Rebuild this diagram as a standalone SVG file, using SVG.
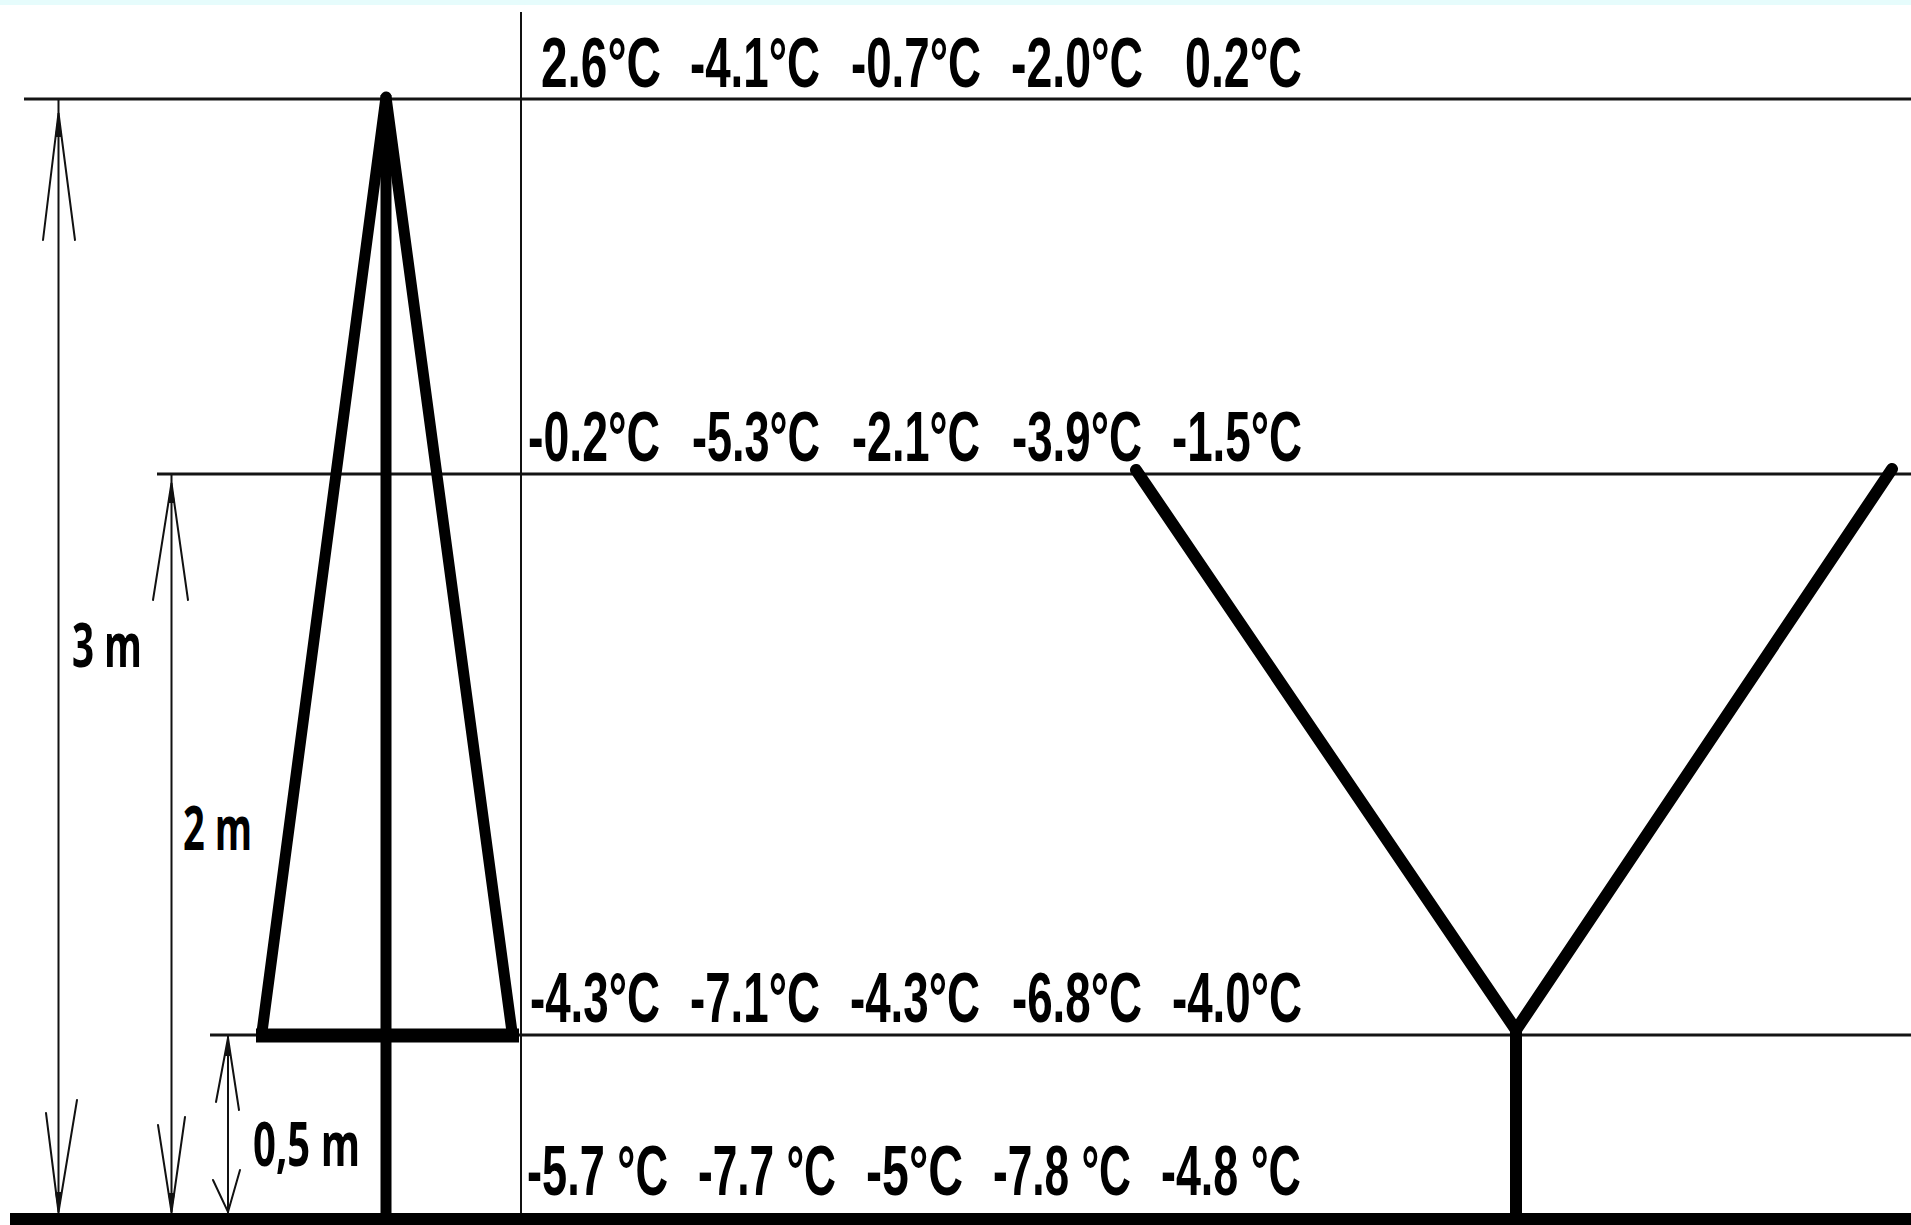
<svg xmlns="http://www.w3.org/2000/svg" width="1911" height="1225" viewBox="0 0 1911 1225">
  <style>
    .thin { stroke: #141414; stroke-width: 3; fill: none; }
    .dim { stroke: #111; stroke-width: 2; fill: none; }
    .wing { stroke: #111; stroke-width: 2; fill: none; stroke-linecap: round; }
    .tip { fill: #111; stroke: none; }
    .thick { stroke: #000; fill: none; stroke-width: 11; }
    .temp { font-family: "Liberation Sans", Arial, sans-serif; font-weight: bold; font-size: 53px; fill: #000; }
    .lbl { font-family: "Open Sans", "Liberation Sans", sans-serif; font-weight: 700; font-size: 60px; fill: #000; }
  </style>
  <rect x="0" y="0" width="1911" height="1225" fill="#ffffff"/>
  <rect x="0" y="0" width="1911" height="5" fill="#e6fcfc"/>

  <g id="level-lines">
    <line class="thin" x1="24" y1="99" x2="1911" y2="99"/>
    <line class="thin" x1="157" y1="474" x2="1911" y2="474"/>
    <line class="thin" x1="210" y1="1035" x2="1911" y2="1035"/>
    <line class="dim" x1="521" y1="12" x2="521" y2="1214" stroke-width="2.5"/>
  </g>

  <g id="ground">
    <rect x="10" y="1213" width="1901" height="12" fill="#000"/>
  </g>

  <g id="dimension-3m">
    <line class="dim" x1="58.5" y1="100" x2="58.5" y2="1213"/>
    <polygon class="tip" points="58.5,112 55,137 62,137"/>
    <polyline class="wing" points="43,240 58.5,113 75,240"/>
    <polygon class="tip" points="58.5,1213 55,1192 62,1192"/>
    <polyline class="wing" points="46,1113 58.5,1212 77,1100"/>
  </g>

  <g id="dimension-2m">
    <line class="dim" x1="171.5" y1="475" x2="171.5" y2="1213"/>
    <polygon class="tip" points="171.5,482 168,503 175,503"/>
    <polyline class="wing" points="153,600 171.5,483 188,600"/>
    <polygon class="tip" points="171.5,1213 168,1193 175,1193"/>
    <polyline class="wing" points="158,1125 171.5,1212 185,1117"/>
  </g>

  <g id="dimension-05m">
    <line class="dim" x1="228" y1="1036" x2="228" y2="1213"/>
    <polygon class="tip" points="228,1037 225,1056 231,1056"/>
    <polyline class="wing" points="216,1102 228,1038 239,1110"/>
    <polyline class="wing" points="213,1180 228,1212 240,1170"/>
  </g>

  <g id="dimension-labels">
    <text class="lbl" x="72" y="667" textLength="70" lengthAdjust="spacingAndGlyphs">3 m</text>
    <text class="lbl" x="183" y="850" textLength="69" lengthAdjust="spacingAndGlyphs">2 m</text>
    <text class="lbl" x="253" y="1166" textLength="107" lengthAdjust="spacingAndGlyphs">0,5 m</text>
  </g>

  <g id="tree-conical">
    <path class="thick" d="M262,1032 L386,97 L512,1032" stroke-linejoin="round"/>
    <line class="thick" x1="386" y1="95" x2="386" y2="1215"/>
    <line x1="256" y1="1035.5" x2="519" y2="1035.5" stroke="#000" stroke-width="14"/>
  </g>

  <g id="tree-vshape">
    <path d="M1136,470 L1516,1030 L1892,469" stroke="#000" stroke-width="12" fill="none" stroke-linecap="round"/>
    <line x1="1516" y1="1030" x2="1516" y2="1215" stroke="#000" stroke-width="12"/>
  </g>

  <g id="temperatures-3m" transform="matrix(1,0,0,1.345,0,-30.015)">
    <text class="temp" x="541" y="87" textLength="120" lengthAdjust="spacingAndGlyphs">2.6°C</text>
    <text class="temp" x="690" y="87" textLength="130" lengthAdjust="spacingAndGlyphs">-4.1°C</text>
    <text class="temp" x="851" y="87" textLength="130" lengthAdjust="spacingAndGlyphs">-0.7°C</text>
    <text class="temp" x="1011" y="87" textLength="132" lengthAdjust="spacingAndGlyphs">-2.0°C</text>
    <text class="temp" x="1185" y="87" textLength="117" lengthAdjust="spacingAndGlyphs">0.2°C</text>
  </g>
  <g id="temperatures-2m" transform="matrix(1,0,0,1.345,0,-159.045)">
    <text class="temp" x="528" y="461" textLength="132" lengthAdjust="spacingAndGlyphs">-0.2°C</text>
    <text class="temp" x="692" y="461" textLength="128" lengthAdjust="spacingAndGlyphs">-5.3°C</text>
    <text class="temp" x="852" y="461" textLength="128" lengthAdjust="spacingAndGlyphs">-2.1°C</text>
    <text class="temp" x="1012" y="461" textLength="130" lengthAdjust="spacingAndGlyphs">-3.9°C</text>
    <text class="temp" x="1172" y="461" textLength="130" lengthAdjust="spacingAndGlyphs">-1.5°C</text>
  </g>
  <g id="temperatures-05m" transform="matrix(1,0,0,1.345,0,-352.59)">
    <text class="temp" x="530" y="1022" textLength="130" lengthAdjust="spacingAndGlyphs">-4.3°C</text>
    <text class="temp" x="690" y="1022" textLength="130" lengthAdjust="spacingAndGlyphs">-7.1°C</text>
    <text class="temp" x="850" y="1022" textLength="130" lengthAdjust="spacingAndGlyphs">-4.3°C</text>
    <text class="temp" x="1012" y="1022" textLength="130" lengthAdjust="spacingAndGlyphs">-6.8°C</text>
    <text class="temp" x="1172" y="1022" textLength="130" lengthAdjust="spacingAndGlyphs">-4.0°C</text>
  </g>
  <g id="temperatures-ground" transform="matrix(1,0,0,1.345,0,-412.275)">
    <text class="temp" x="527" y="1195" textLength="141" lengthAdjust="spacingAndGlyphs">-5.7 °C</text>
    <text class="temp" x="698" y="1195" textLength="138" lengthAdjust="spacingAndGlyphs">-7.7 °C</text>
    <text class="temp" x="866" y="1195" textLength="97" lengthAdjust="spacingAndGlyphs">-5°C</text>
    <text class="temp" x="993" y="1195" textLength="138" lengthAdjust="spacingAndGlyphs">-7.8 °C</text>
    <text class="temp" x="1161" y="1195" textLength="140" lengthAdjust="spacingAndGlyphs">-4.8 °C</text>
  </g>
</svg>
